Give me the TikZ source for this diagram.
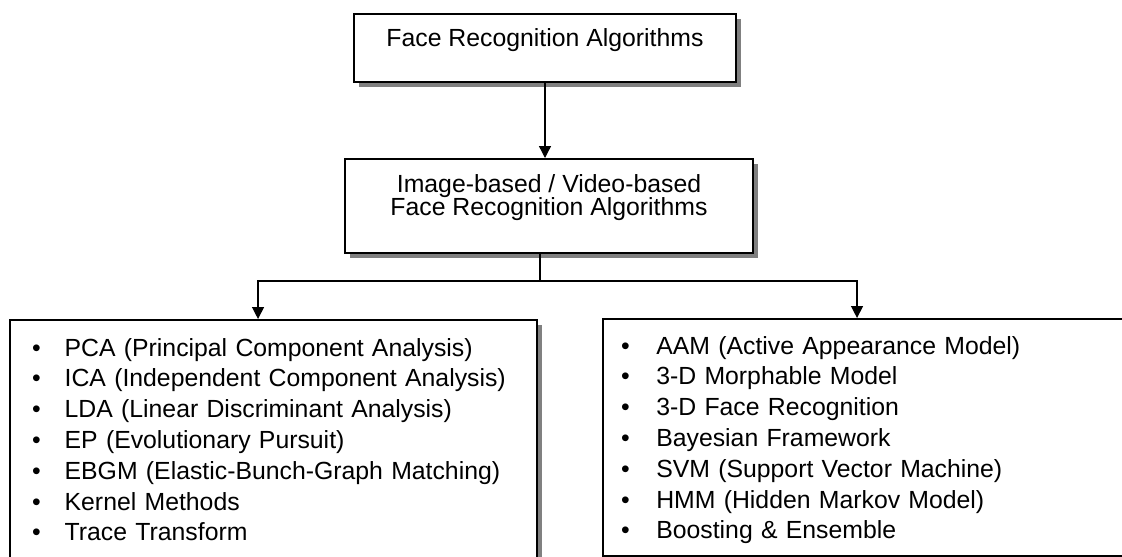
\documentclass[tikz,border=0pt]{standalone}
\usepackage{fontspec}
\setmainfont{Liberation Sans}
\usetikzlibrary{arrows.meta,shadows}
\newcommand\lbul{\makebox[24.5pt][l]{\textbullet}}
\newcommand\rbul{\makebox[26.5pt][l]{\textbullet}}
\begin{document}
\begin{tikzpicture}[x=0.75pt,y=-0.75pt,
  box/.style={draw, line width=1.5pt, fill=white, inner ysep=0pt,
    drop shadow={shadow xshift=3.75pt, shadow yshift=-3.75pt, opacity=1, fill=black!50}},
  conn/.style={line width=1pt},
  arr/.style={conn, -{Triangle[length=9pt,width=9pt]}},
  txt/.style={font=\fontsize{18.6pt}{23.1pt}\selectfont},
  listbox/.style={box, txt, anchor=north west, align=left}]
\useasboundingbox (0,0) rectangle (1122,557);
\clip (0,0) rectangle (1122,557);

\node[box, txt, anchor=north west, minimum width=286.5pt,
      text height=24pt, text depth=27pt] (top) at (353,13)
  {Face Recognition Algorithms};

\node[box, txt, anchor=north west, minimum width=306pt,
      text height=24.75pt, text depth=45.75pt] (mid) at (344,158)
  {\vtop{\baselineskip=17.6pt\halign{\hfil#\hfil\cr
    Image-based / Video-based\cr
    Face Recognition Algorithms\cr}}};

\node[listbox, inner xsep=16.5pt, text width=362.25pt,
      text height=27pt, text depth=165pt] (L) at (9,319)
  {\lbul PCA (Principal Component Analysis)\\
   \lbul ICA (Independent Component Analysis)\\
   \lbul LDA (Linear Discriminant Analysis)\\
   \lbul EP (Evolutionary Pursuit)\\
   \lbul EBGM (Elastic-Bunch-Graph Matching)\\
   \lbul Kernel Methods\\
   \lbul Trace Transform};

\node[listbox, inner xsep=13.5pt, text width=377.25pt,
      text height=26.25pt, text depth=151.5pt] (R) at (602,318)
  {\rbul AAM (Active Appearance Model)\\
   \rbul 3-D Morphable Model\\
   \rbul 3-D Face Recognition\\
   \rbul Bayesian Framework\\
   \rbul SVM (Support Vector Machine)\\
   \rbul HMM (Hidden Markov Model)\\
   \rbul Boosting \& Ensemble};

\coordinate (j) at (540,281);
\draw[arr] (top.south) -- (top.south |- mid.north);
\draw[conn] (mid.south -| j) -- (j);
\draw[arr] (j) -| ([xshift=-11.6pt]L.north);
\draw[arr] (j) -| ([xshift=-11.6pt]R.north);
\end{tikzpicture}
\end{document}
